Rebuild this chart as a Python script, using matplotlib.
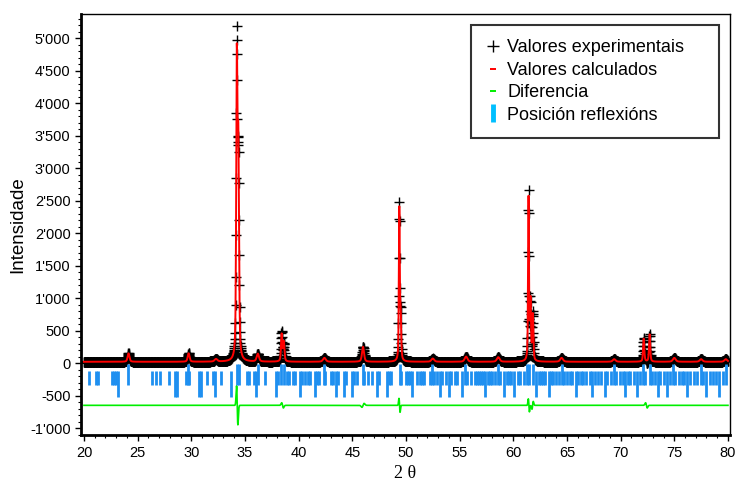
import matplotlib
matplotlib.use("Agg")
from matplotlib import pyplot as plt
from matplotlib.lines import Line2D
from matplotlib.ticker import FuncFormatter, MultipleLocator
import numpy as np

plt.rcParams["font.family"] = ["Liberation Sans", "DejaVu Sans"]

# Peak table: position (2theta), height above background, FWHM
peak_pos = [24.15, 29.75, 32.3, 34.24, 34.38, 36.2, 38.42, 38.62, 42.4, 46.0,
            49.38, 49.5, 52.5, 55.6, 58.6, 61.42, 61.6, 61.82, 64.5, 69.4,
            72.15, 72.7, 75.0, 77.5, 79.8]
peak_h = [130, 130, 40, 4400, 3200, 120, 420, 300, 60, 230,
          2300, 700, 50, 80, 70, 2500, 900, 700, 60, 40,
          360, 420, 60, 40, 40]
peak_w = [0.2, 0.2, 0.3, 0.13, 0.15, 0.25, 0.14, 0.14, 0.3, 0.22,
          0.1, 0.12, 0.3, 0.3, 0.3, 0.1, 0.12, 0.12, 0.3, 0.3,
          0.13, 0.13, 0.3, 0.3, 0.3]
background = 20

# misfit between observed and calculated (shows in the difference curve)
misfit_pos = [34.28, 38.5, 46.0, 49.4, 61.45, 61.8, 72.4]
misfit_amp = [-300, -40, 30, -110, -100, 60, -40]
misfit_w = [0.06, 0.08, 0.1, 0.05, 0.05, 0.06, 0.08]

diff_offset = -650

# reflection positions
refl_normal = [20.5, 21.15, 21.3, 22.6, 22.8, 23.0, 26.3, 26.7, 27.1, 27.9,
               29.5, 29.8, 31.5, 32.0, 32.8,
               35.2, 35.4, 35.8, 36.9, 38.05, 38.9, 39.1, 39.5, 39.7, 40.3,
               40.6, 40.9, 41.1, 41.7, 41.9, 42.5, 43.0, 43.2, 43.7, 44.4,
               45.2, 45.4, 46.1, 46.5, 46.8, 47.5, 48.4, 48.6, 49.5, 50.0,
               50.2, 50.4, 51.0, 51.3, 51.5, 51.7, 52.2, 52.6, 52.9, 53.4,
               53.7, 54.2, 54.6, 54.8, 55.7, 56.1, 56.4, 56.6, 56.8, 57.0,
               57.2, 57.6, 57.8, 58.0, 58.3, 58.8, 59.4, 59.6, 59.8, 60.4,
               60.6, 61.0, 62.4, 62.6, 62.8, 63.0, 63.5, 63.7, 64.0, 64.3,
               64.7, 65.0, 65.3, 65.5, 66.0, 66.3, 66.5, 66.8, 67.1, 67.6,
               67.9, 68.2, 68.7, 69.1, 69.6, 69.9, 70.2, 70.7, 70.9, 71.2,
               71.8, 72.3, 72.9, 73.2, 73.7, 74.0, 74.6, 75.1, 75.4, 75.7,
               75.9, 76.5, 76.8, 77.1, 77.7, 78.3, 78.6, 78.9, 79.5]
refl_long = [23.2, 28.5, 28.7, 30.7, 30.9, 32.2, 33.7, 36.0, 37.9, 40.1,
             41.5, 43.5, 44.2, 45.0, 47.3, 48.2, 50.6, 53.2, 54.0, 55.2,
             57.4, 59.1, 60.1, 62.1, 63.3, 65.8, 67.3, 68.5, 70.4, 71.5,
             73.5, 74.3, 76.2, 78.0, 79.2]
refl_strong = [24.1, 29.7, 34.25, 34.4, 36.2, 38.4, 38.6, 42.4, 46.0, 49.4,
               52.4, 55.5, 58.6, 61.3, 61.5, 61.8, 64.5, 69.4, 72.1, 72.7,
               74.9, 77.5, 79.8]

two_theta = np.arange(20.0, 80.0001, 0.02)


def profile(x, pos, h, w):
    y = np.zeros_like(x)
    for p, a, f in zip(pos, h, w):
        g = np.exp(-4 * np.log(2) * ((x - p) / f) ** 2)
        l = 1 / (1 + 4 * ((x - p) / f) ** 2)
        y += a * (0.5 * g + 0.5 * l)
    return y


calc = background + profile(two_theta, peak_pos, peak_h, peak_w)
misfit = np.zeros_like(two_theta)
for p, a, s in zip(misfit_pos, misfit_amp, misfit_w):
    u = (two_theta - p) / s
    misfit += a * u * np.exp(0.5 - u ** 2 / 2)
obs = calc + misfit
diff = obs - calc + diff_offset

fig = plt.figure(figsize=(7.36, 4.84), dpi=100)
ax = fig.add_axes([0.110, 0.101, 0.882, 0.870])

ax.plot(two_theta, obs, "+", color="black", markersize=6.5, markeredgewidth=1.0)
ax.plot(two_theta, calc, "-", color="red", linewidth=1.4)
ax.plot(two_theta, diff, "-", color="#00ee00", linewidth=1.2)
blue = "#1e8ff0"
ax.vlines(refl_normal, -340, -120, color=blue, linewidth=2.0)
ax.vlines(refl_long, -520, -120, color=blue, linewidth=2.0)
ax.vlines(refl_strong, -340, -20, color=blue, linewidth=2.0)

ax.set_xlim(19.72, 80.2)
ax.set_ylim(-1108, 5369)
ax.xaxis.set_major_locator(MultipleLocator(5))
ax.xaxis.set_minor_locator(MultipleLocator(1))
ax.yaxis.set_major_locator(MultipleLocator(500))
ax.yaxis.set_minor_locator(MultipleLocator(100))
ax.yaxis.set_major_formatter(FuncFormatter(lambda v, _: f"{int(round(v)):,}".replace(",", "'")))
ax.tick_params(axis="both", which="major", direction="out", length=4, width=1, labelsize=10.5)
ax.tick_params(axis="both", which="minor", direction="out", length=2, width=0.8)
for side in ["left", "bottom"]:
    ax.spines[side].set_linewidth(2)
for side in ["top", "right"]:
    ax.spines[side].set_linewidth(1)

ax.set_ylabel("Intensidade", fontsize=13.5, labelpad=3)
ax.set_xlabel("2 θ", fontsize=13, family="Liberation Serif", labelpad=4)

handles = [
    Line2D([], [], linestyle="none", marker="+", color="black", markersize=8, markeredgewidth=1.0),
    Line2D([], [], linestyle="none", marker="_", color="red", markersize=5, markeredgewidth=1.4),
    Line2D([], [], linestyle="none", marker="_", color="#00ee00", markersize=5, markeredgewidth=1.4),
    Line2D([], [], linestyle="none", marker="|", color="#00bfff", markersize=13, markeredgewidth=3.5),
]
labels = ["Valores experimentais", "Valores calculados", "Diferencia", "Posición reflexións"]
leg = ax.legend(handles, labels, loc="upper left", bbox_to_anchor=(0.601, 0.717, 0.382, 0.257),
                mode="expand", fontsize=13, frameon=True, fancybox=False, borderpad=0.8,
                labelspacing=0.3, handlelength=0.8, handletextpad=0.4, borderaxespad=0)
leg.get_frame().set_edgecolor("black")
leg.get_frame().set_linewidth(1.5)

fig.savefig("out.png", dpi=100)
